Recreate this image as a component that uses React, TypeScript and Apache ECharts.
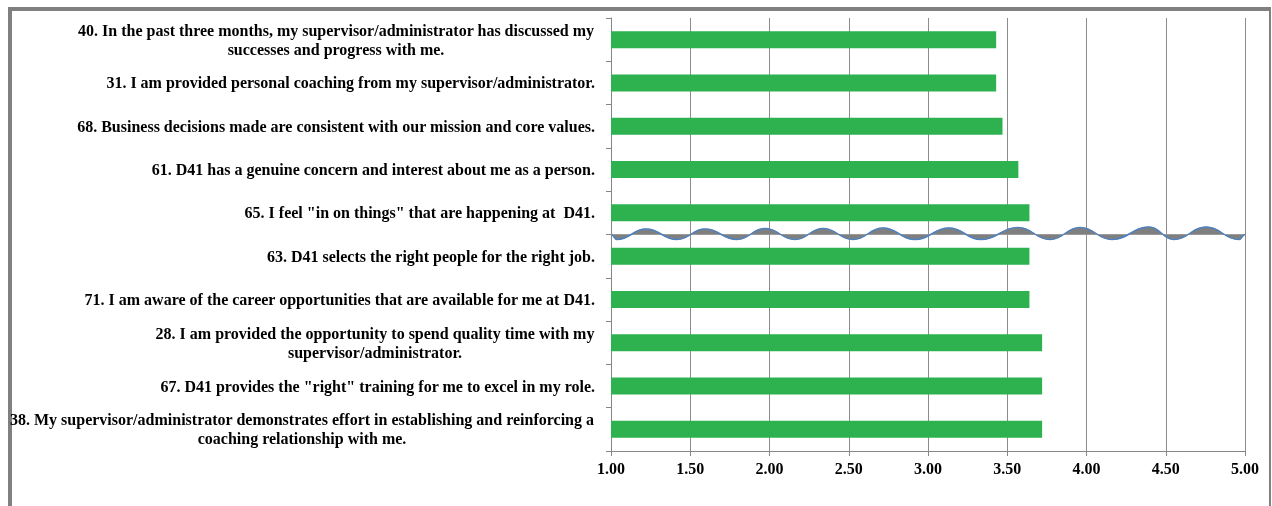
import React, { useEffect, useRef } from "react";
import * as echarts from "echarts";

const categories: string[] = [
  "40. In the past three months, my supervisor/administrator has discussed my\nsuccesses and progress with me.",
  "31. I am provided personal coaching from my supervisor/administrator.",
  "68. Business decisions made are consistent with our mission and core values.",
  "61. D41 has a genuine concern and interest about me as a person.",
  "65. I feel \"in on things\" that are happening at  D41.",
  "63. D41 selects the right people for the right job.",
  "71. I am aware of the career opportunities that are available for me at D41.",
  "28. I am provided the opportunity to spend quality time with my\nsupervisor/administrator.",
  "67. D41 provides the \"right\" training for me to excel in my role.",
  "38. My supervisor/administrator demonstrates effort in establishing and reinforcing a\ncoaching relationship with me.",
];

const scores: number[] = [3.43, 3.43, 3.47, 3.57, 3.64, 3.64, 3.64, 3.72, 3.72, 3.72];

const xMin = 1;
const xMax = 5;
const xStep = 0.5;

// decorative wave (break marker) drawn between rows 5 and 6, local units over a width of 634
const WAVE_W = 634;
const WAVE_X = [0, 6, 35, 66, 94, 126, 154, 184, 212, 242, 272, 304, 338, 370, 407, 439, 469, 501, 538, 563, 595, 628, 634];
const WAVE_Y = [0, 5, -5.5, 5, -5.5, 5, -6, 5, -6, 5, -6.5, 5, -6.5, 5, -7, 5, -7, 5, -7.5, 5, -7.5, 5, 0];

const FONT_FAMILY = '"Liberation Serif", "Times New Roman", serif';
const FONT_SIZE = 16;
const FONT_WEIGHT = "bold";

function buildWave(): string {
  let d = `M${WAVE_X[0]} ${WAVE_Y[0]}`;
  for (let i = 0; i < WAVE_X.length - 1; i++) {
    const dx = WAVE_X[i + 1] - WAVE_X[i];
    d += ` C${WAVE_X[i] + dx * 0.45} ${WAVE_Y[i]} ${WAVE_X[i + 1] - dx * 0.45} ${WAVE_Y[i + 1]} ${WAVE_X[i + 1]} ${WAVE_Y[i + 1]}`;
  }
  return d;
}

let registered = false;
function registerWave() {
  if (registered) return;
  registered = true;
  const w = buildWave();
  echarts.graphic.registerShape("waveFill", echarts.graphic.extendPath(w + ` L${WAVE_W} 0 L0 0 Z`, {}));
  echarts.graphic.registerShape("waveLine", echarts.graphic.extendPath(w, {}));
}

function measure(text: string): number {
  const ctx = document.createElement("canvas").getContext("2d")!;
  ctx.font = `${FONT_WEIGHT} ${FONT_SIZE}px ${FONT_FAMILY}`;
  return ctx.measureText(text).width;
}

export default function App() {
  const ref = useRef<HTMLDivElement>(null);

  useEffect(() => {
    if (!ref.current) return;
    registerWave();
    const chart = echarts.init(ref.current, undefined, { renderer: "svg" });

    const rich: Record<string, any> = {};
    categories.forEach((c, i) => {
      const lines = c.split("\n");
      if (lines.length > 1) {
        const w = Math.max(...lines.map(measure));
        rich["m" + i] = {
          width: Math.ceil(w) + 1,
          align: "center",
          fontFamily: FONT_FAMILY,
          fontSize: FONT_SIZE,
          fontWeight: FONT_WEIGHT,
          color: "#000",
          lineHeight: 19,
        };
      }
    });

    chart.setOption({
      animation: false,
      grid: { left: 611, right: 27, top: 18, bottom: 55, containLabel: false },
      xAxis: {
        type: "value",
        min: xMin,
        max: xMax,
        interval: xStep,
        axisLine: { show: true, lineStyle: { color: "#868686", width: 1 } },
        axisTick: { show: true, length: 5, lineStyle: { color: "#868686" } },
        splitLine: { show: true, lineStyle: { color: "#8c8c8c", width: 1 } },
        axisLabel: {
          formatter: (v: number) => v.toFixed(2),
          fontFamily: FONT_FAMILY,
          fontSize: FONT_SIZE,
          fontWeight: FONT_WEIGHT,
          color: "#000",
          margin: 9,
        },
      },
      yAxis: {
        type: "category",
        data: categories,
        inverse: true,
        axisLine: { show: true, lineStyle: { color: "#868686", width: 1 } },
        axisTick: { show: true, length: 5, lineStyle: { color: "#868686" } },
        splitLine: { show: false },
        axisLabel: {
          interval: 0,
          margin: 16,
          align: "right",
          fontFamily: FONT_FAMILY,
          fontSize: FONT_SIZE,
          fontWeight: FONT_WEIGHT,
          color: "#000",
          lineHeight: 19,
          rich,
          formatter: (value: string, index: number) => {
            const lines = value.split("\n");
            if (lines.length === 1) return value;
            return lines.map((l) => `{m${index}|${l}}`).join("\n");
          },
        },
      },
      series: [
        {
          type: "bar",
          data: scores,
          barWidth: 17,
          itemStyle: { color: "#2DB24F" },
          silent: true,
        },
      ],
    });

    const x0 = chart.convertToPixel({ xAxisIndex: 0 }, xMin) as number;
    const x1 = chart.convertToPixel({ xAxisIndex: 0 }, xMax) as number;
    const ya = chart.convertToPixel({ yAxisIndex: 0 }, 4) as number;
    const yb = chart.convertToPixel({ yAxisIndex: 0 }, 5) as number;
    const yBase = (ya + yb) / 2;
    const sx = (x1 - x0) / WAVE_W;

    chart.setOption({
      graphic: [
        {
          type: "waveFill",
          x: x0,
          y: yBase,
          scaleX: sx,
          scaleY: 1,
          silent: true,
          style: { fill: "#7f7f7f", stroke: "#9a9a9a", lineWidth: 1 },
        },
        {
          type: "waveLine",
          x: x0,
          y: yBase,
          scaleX: sx,
          scaleY: 1,
          silent: true,
          style: { fill: null, stroke: "#4F81BD", lineWidth: 1.5 },
        },
      ],
    });

    return () => chart.dispose();
  }, []);

  return (
    <>
      <div
        style={{
          position: "fixed",
          left: 8,
          top: 7,
          width: 1263,
          height: 520,
          boxSizing: "border-box",
          borderLeft: "4px solid #808080",
          borderTop: "4px solid #808080",
          borderRight: "2px solid #808080",
        }}
      />
      <div ref={ref} style={{ position: "fixed", left: 0, top: 0, width: 1272, height: 506 }} />
    </>
  );
}
